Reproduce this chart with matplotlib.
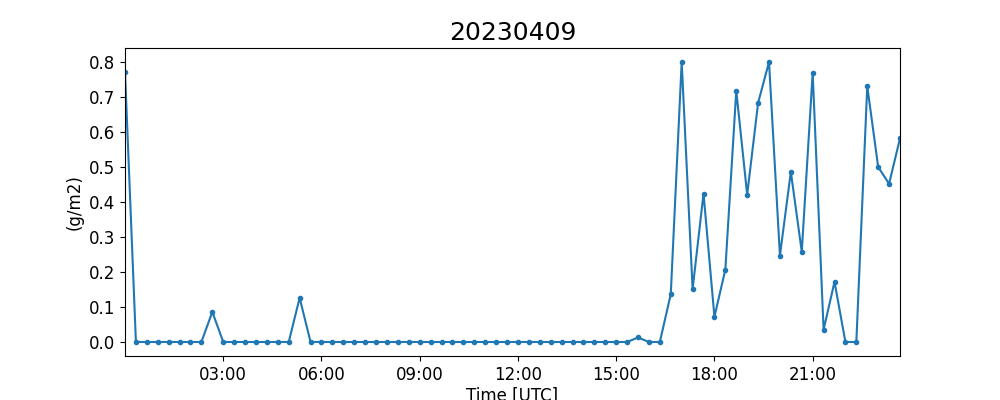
import numpy as np
import pandas as pd
import matplotlib
matplotlib.use("Agg")
import matplotlib.pyplot as plt
import matplotlib.dates as mdates

# 20-minute values for 2023-04-09 (g/m2)
values = [
    0.772, 0.0, 0.0, 0.0, 0.0, 0.0, 0.0, 0.0, 0.086, 0.0, 0.0, 0.0,
    0.0, 0.0, 0.0, 0.0, 0.126, 0.0, 0.0, 0.0, 0.0, 0.0, 0.0, 0.0,
    0.0, 0.0, 0.0, 0.0, 0.0, 0.0, 0.0, 0.0, 0.0, 0.0, 0.0, 0.0,
    0.0, 0.0, 0.0, 0.0, 0.0, 0.0, 0.0, 0.0, 0.0, 0.0, 0.0, 0.013,
    0.0, 0.0, 0.137, 0.800, 0.151, 0.424, 0.072, 0.207, 0.718, 0.421,
    0.683, 0.800, 0.247, 0.486, 0.258, 0.769, 0.035, 0.172, 0.0, 0.0,
    0.731, 0.500, 0.452, 0.582,
]
times = pd.date_range("2023-04-09 00:00", periods=len(values), freq="20min")

fig, ax = plt.subplots(figsize=(10, 4))
ax.plot(times, values, marker=".")
ax.set_xlim(times[0], times[-1])
ax.xaxis.set_major_locator(mdates.HourLocator(byhour=range(3, 24, 3)))
ax.xaxis.set_major_formatter(mdates.DateFormatter("%H:%M"))
ax.tick_params(labelsize=12)
ax.set_xlabel("Time [UTC]", fontsize=12, labelpad=2)
ax.set_ylabel("(g/m2)", fontsize=12)
ax.set_title("20230409", fontsize=18)

fig.savefig("out.png", dpi=100)
